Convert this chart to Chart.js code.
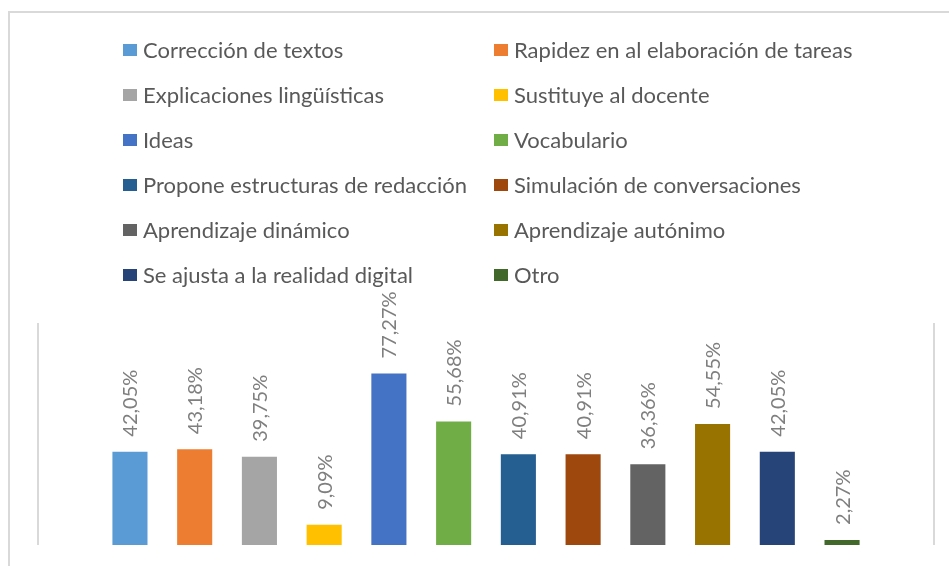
<!DOCTYPE html>
<html>
  <head>
    <meta charset="utf-8">
    <title>Usos</title>
    <script src="https://cdn.jsdelivr.net/npm/chart.js"></script>
    <style>
      body { margin: 0; overflow: hidden; background: #fff; }
      #wrap { position: relative; width: 949px; height: 566px; }
      #frame { position: absolute; left: 8px; top: 11px; width: 1200px; height: 800px; border: 2px solid #d9d9d9; }
      #legend { position: absolute; left: 123px; top: 27px; display: grid; grid-template-columns: 371px 371px;
                font-family: Lato, sans-serif; font-size: 22px; color: #595959; }
      #legend div { display: flex; align-items: center; height: 45px; white-space: nowrap; }
      #legend span.box { width: 14px; height: 12px; margin-right: 6px; flex: none; }
    </style>
  </head>
  <body>
	<div id="wrap">
		<div id="frame"></div>
		<canvas id="UsosChart"></canvas>
		<div id="legend"></div>
	</div>
    <script>
	var categorias = ['Corrección de textos', 'Rapidez en al elaboración de tareas', 'Explicaciones lingüísticas',
		'Sustituye al docente', 'Ideas', 'Vocabulario', 'Propone estructuras de redacción',
		'Simulación de conversaciones', 'Aprendizaje dinámico', 'Aprendizaje autónimo',
		'Se ajusta a la realidad digital', 'Otro'];
	var valores = [42.05, 43.18, 39.75, 9.09, 77.27, 55.68, 40.91, 40.91, 36.36, 54.55, 42.05, 2.27];
	var colores = ['#5B9BD5', '#ED7D31', '#A5A5A5', '#FFC000', '#4472C4', '#70AD47',
		'#255E91', '#9E480E', '#636363', '#997300', '#264478', '#43682B'];

	function fmt(v) {
		return v.toFixed(2).replace('.', ',') + '%';
	}

	// each answer is its own series, like the spreadsheet chart
	var datasets = categorias.map(function(c, i) {
		return {
			label : c,
			data : [valores[i]],
			backgroundColor : colores[i],
			borderWidth : 0,
			categoryPercentage : 0.867,
			barPercentage : 0.542
		};
	});

	const barLabels = {
		id : 'barLabels',
		afterDatasetsDraw(chart) {
			const ctx = chart.ctx;
			ctx.save();
			ctx.font = '20px Lato';
			ctx.fillStyle = '#7f7f7f';
			ctx.textAlign = 'left';
			ctx.textBaseline = 'middle';
			chart.data.datasets.forEach(function(ds, i) {
				const bar = chart.getDatasetMeta(i).data[0];
				ctx.save();
				ctx.translate(bar.x + 1, bar.y - 15);
				ctx.rotate(-Math.PI / 2);
				ctx.fillText(fmt(ds.data[0]), 0, 0);
				ctx.restore();
			});
			ctx.restore();
		}
	};

	const htmlLegend = {
		id : 'htmlLegend',
		afterUpdate(chart) {
			const box = document.getElementById('legend');
			box.innerHTML = '';
			const items = chart.options.plugins.legend.labels.generateLabels(chart);
			items.forEach(function(item) {
				const row = document.createElement('div');
				const sw = document.createElement('span');
				sw.className = 'box';
				sw.style.background = item.fillStyle;
				row.appendChild(sw);
				row.appendChild(document.createTextNode(item.text));
				box.appendChild(row);
			});
		}
	};

	const config = {
		type : 'bar',
		data : { labels : [''], datasets : datasets },
		options : {
			responsive : false,
			animation : false,
			layout : { padding : { left : 38, right : 15, top : 323, bottom : 21 } },
			plugins : { legend : { display : false }, tooltip : { enabled : false } },
			scales : {
				x : {
					grid : { display : true, offset : true, drawTicks : false, color : '#d9d9d9', lineWidth : 2 },
					border : { display : false },
					ticks : { display : false }
				},
				y : { display : false, min : 0, max : 100 }
			}
		},
		plugins : [barLabels, htmlLegend]
	};
	const cv = document.getElementById('UsosChart');
	cv.width = 949;
	cv.height = 566;
	const UsosChart = new Chart(cv, config);
    </script>
  </body>
</html>
